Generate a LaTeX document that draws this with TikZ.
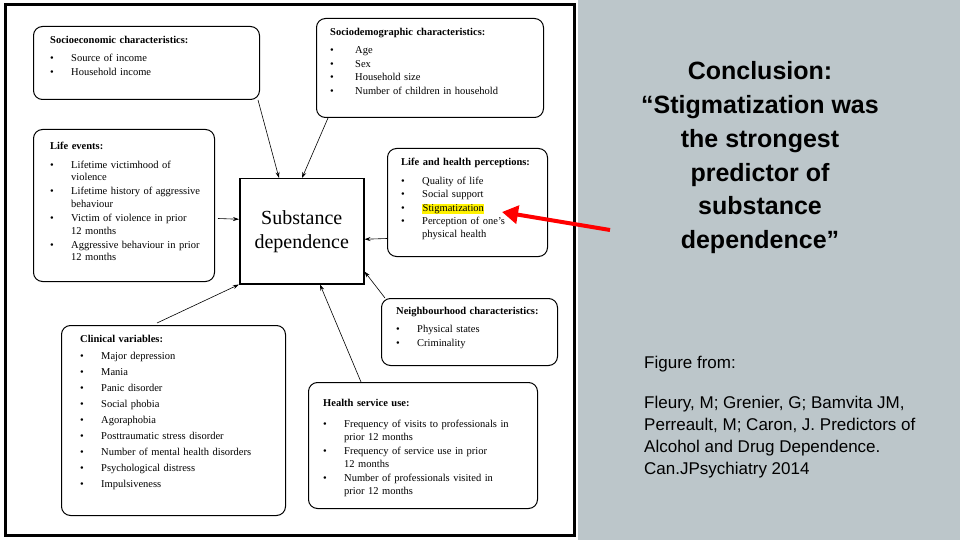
\documentclass[tikz,border=0pt]{standalone}
\usepackage{fontspec}
\setmainfont{Liberation Serif}
\newfontfamily\sansf{Liberation Sans}
\usetikzlibrary{calc,arrows.meta}
\definecolor{bgray}{HTML}{BCC6CA}
\newcommand{\bit}[1]{\par\noindent\makebox[21pt][l]{\textbullet}\begin{tabular}[t]{@{}l@{}}#1\end{tabular}}
\newcommand{\bitw}[1]{\par\noindent\makebox[25pt][l]{\textbullet}#1}
\newcommand{\ttl}[1]{\textbf{#1}}
\tikzset{
  box/.style={draw,line width=1pt,rounded corners=9pt,anchor=north west,inner sep=0pt},
  txt/.style={anchor=north west,inner sep=0pt,font=\fontsize{10.5}{13.5}\selectfont,align=left},
  arr/.style={-{Stealth[length=6pt,width=4pt]},line width=0.6pt},
}
\renewcommand{\arraystretch}{0.95}
\begin{document}
\begin{tikzpicture}[x=1pt,y=-1pt]
\useasboundingbox (0,0) rectangle (960,540);
\fill[white] (0,0) rectangle (578,540);
\fill[bgray] (578,0) rectangle (960,540);
\draw[line width=3pt] (5,5) rectangle (574,535);
% boxes
\node[box,minimum width=226,minimum height=73] (soc) at (33,26) {};
\node[box,minimum width=227,minimum height=99] (dem) at (316,18) {};
\node[box,minimum width=181,minimum height=152] (life) at (33,129) {};
\node[draw,line width=1.5pt,anchor=north west,inner sep=0pt,minimum width=124,minimum height=105] (cen) at (239,178) {};
\node[box,minimum width=160,minimum height=108] (lh) at (387,148) {};
\node[box,minimum width=176,minimum height=67] (nb) at (381,298) {};
\node[box,minimum width=224,minimum height=190] (cl) at (61,325) {};
\node[box,minimum width=229,minimum height=126] (hs) at (308,382) {};
% texts
\node[txt,text width=210] (tsoc) at (50,36) {\ttl{Socioeconomic characteristics:}\par\vspace{5pt}\bit{Source of income}\bit{Household income}};
\node[txt,text width=215] (tdem) at (330,28) {\ttl{Sociodemographic characteristics:}\par\vspace{5pt}\bitw{Age}\bitw{Sex}\bitw{Household size}\bitw{Number of children in household}};
\node[txt,text width=178] (tlife) at (50,142) {\ttl{Life events:}\par\vspace{5pt}\bit{Lifetime victimhood of\\violence}\bit{Lifetime history of aggressive\\behaviour}\bit{Victim of violence in prior\\12 months}\bit{Aggressive behaviour in prior\\12 months}};
\node[font=\fontsize{20}{24}\selectfont,align=center] (tcen) at (cen.center) {Substance\\dependence};
\node[txt,text width=160] (tlh) at (401,158) {\ttl{Life and health perceptions:}\par\vspace{5pt}\bit{Quality of life}\bit{Social support}\bit{{\setlength{\fboxsep}{0.5pt}\colorbox{yellow}{Stigmatization}}}\bit{Perception of one's\\physical health}};
\node[txt,text width=175] (tnb) at (396,307) {\ttl{Neighbourhood characteristics:}\par\vspace{5pt}\bit{Physical states}\bit{Criminality}};
\node[txt,text width=215,font=\fontsize{10.5}{16}\selectfont] (tcl) at (80,335) {\ttl{Clinical variables:}\par\vspace{1pt}\bit{Major depression}\bit{Mania}\bit{Panic disorder}\bit{Social phobia}\bit{Agoraphobia}\bit{Posttraumatic stress disorder}\bit{Number of mental health disorders}\bit{Psychological distress}\bit{Impulsiveness}};
\node[txt,text width=225] (ths) at (323,399) {\ttl{Health service use:}\par\vspace{8pt}\bit{Frequency of visits to professionals in\\prior 12 months}\bit{Frequency of service use in prior\\12 months}\bit{Number of professionals visited in\\prior 12 months}};
% arrows
\draw[arr] ($(soc.south east)+(-2,0)$) -- ($(cen.north west)+(40,0)$);
\draw[arr] ($(dem.south west)+(12,0)$) -- ($(cen.north west)+(63,0)$);
\draw[arr] ($(life.east)+(3,13)$) -- ($(cen.west)+(0,-12)$);
\draw[arr] ($(lh.west)+(0,36)$) -- ($(cen.east)+(0,8)$);
\draw[arr] ($(nb.north west)+(4,0)$) -- ($(cen.south east)+(0,-13)$);
\draw[arr] ($(hs.north west)+(53,0)$) -- ($(cen.south west)+(81,0)$);
\draw[arr] ($(cl.north west)+(96,-2)$) -- (cen.south west);
% red arrow
\coordinate (rs) at (610,230);
\draw[red,line width=4pt,-{Triangle[length=16pt,width=18pt]}] (rs) -- (502,212);
% right text
\node[font=\sansf\bfseries\fontsize{25}{33.8}\selectfont,align=center,anchor=north] (concl) at (760,58) {Conclusion:\\“Stigmatization was\\the strongest\\predictor of\\substance\\dependence”};
\node[font=\sansf\fontsize{17}{18}\selectfont,anchor=north west,inner sep=0pt] (ff) at (644,356) {Figure from:};
\node[font=\sansf\fontsize{17}{22}\selectfont,anchor=north west,inner sep=0pt,align=left] (ref) at (644,396) {Fleury, M; Grenier, G; Bamvita JM,\\Perreault, M; Caron, J. Predictors of\\Alcohol and Drug Dependence.\\Can.JPsychiatry 2014};
\end{tikzpicture}
\end{document}
